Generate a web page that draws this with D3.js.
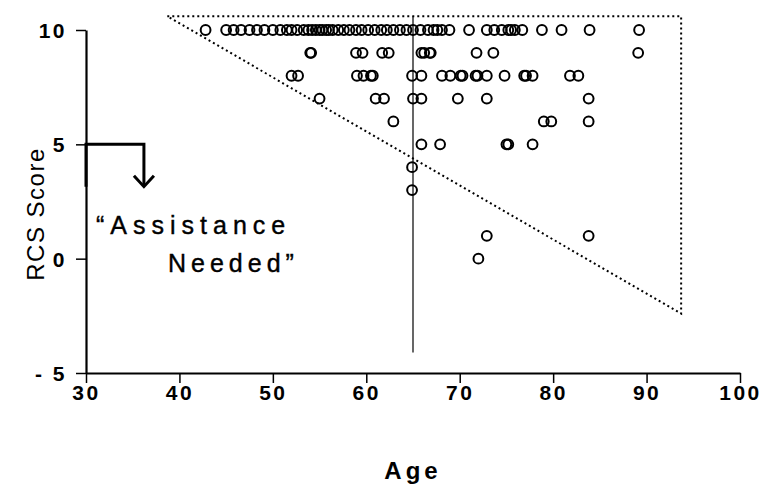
<!DOCTYPE html>
<html>
<head>
<meta charset="utf-8">
<script src="https://cdn.jsdelivr.net/npm/d3@7"></script>
<style>
  body { margin: 0; background: #fff; }
  svg { display: block; }
  .tick text { font-family: "Liberation Sans", Arial, sans-serif; font-weight: bold; font-size: 21px; letter-spacing: 2.5px; }
</style>
</head>
<body>
<div id="chart"></div>
<script>
// RCS score by age, one list of ages per score row
var scoreRows = [10, 9, 8, 7, 6, 5, 4, 3, 1, 0];
var agesByRow = [
  // score 10
  [42.8, 45, 45.8, 46.6, 47.5, 48.3, 49.1, 50, 50.8, 51.5, 52, 52.6, 53.3, 53.8, 54.2, 54.6, 55, 55.3, 55.7,
   56, 56.4, 57, 57.6, 58.2, 58.9, 59.5, 60.2, 60.9, 61.6, 62.2, 62.9, 63.6, 64.3,
   65, 65.8, 66.6, 67.2, 67.6, 68.1, 68.9, 71, 72.9, 73.7, 74.5, 75.2, 75.5, 75.9, 76.7, 78.8, 80.9, 83.9, 89.2],
  // score 9
  [54, 54.1, 58.9, 59.6, 61.7, 62.4, 65.9, 66.2, 66.8, 66.9, 71.8, 73.6, 89.1],
  // score 8
  [52, 52.7, 59, 59.7, 60.5, 60.7, 64.9, 65.9, 68.1, 69, 70.1, 70.3, 71.7, 71.9, 72.9, 74.8, 76.9, 77.1, 77.8, 81.8, 82.7],
  // score 7
  [55, 61, 61.9, 65, 65.9, 69.8, 72.9, 83.8],
  // score 6
  [62.9, 79, 79.8, 83.8],
  // score 5
  [65.9, 67.9, 75, 75.2, 77.8],
  // score 4
  [64.9],
  // score 3
  [64.9],
  // score 1
  [72.9, 83.8],
  // score 0
  [72]
];

var xTicks = [30, 40, 50, 60, 70, 80, 90, 100];
var yTicks = [-5, 0, 5, 10];

// dotted triangle corners (age, score)
var triangle = [[38.7, 10.6], [93.7, 10.6], [93.7, -2.4]];
// age 65 cut-off line
var cutAge = 65, cutTop = 10.6, cutBottom = -4.1;
// "assistance needed" bracket: from score 5 on the axis out to this age, then down
var bracketAge = 36.2, bracketBottom = 3.15;

var width = 763, height = 484;

var x = d3.scaleLinear().domain([30, 100]).range([86, 740]);
var y = d3.scaleLinear().domain([-5, 10]).range([373, 30]);

var svg = d3.select("#chart").append("svg")
  .attr("width", width)
  .attr("height", height);

svg.append("rect").attr("width", width).attr("height", height).attr("fill", "#fff");

// flatten the rows into points
var points = [];
agesByRow.forEach(function(ages, i) {
  ages.forEach(function(a) { points.push({ age: a, score: scoreRows[i] }); });
});

// dotted triangle
svg.append("path")
  .attr("d", d3.line()(triangle.map(function(p) { return [x(p[0]), y(p[1])]; })) + "Z")
  .attr("fill", "none")
  .attr("stroke", "#000")
  .attr("stroke-width", 2)
  .attr("stroke-dasharray", "2,3");

// vertical line at 65
svg.append("line")
  .attr("x1", x(cutAge)).attr("x2", x(cutAge))
  .attr("y1", y(cutTop)).attr("y2", y(cutBottom))
  .attr("stroke", "#000")
  .attr("stroke-width", 1.2);

// axes
var xAxis = d3.axisBottom(x).tickValues(xTicks).tickSize(10).tickSizeOuter(0).tickPadding(2);
var yAxis = d3.axisLeft(y).tickValues(yTicks).tickSize(10).tickSizeOuter(0).tickPadding(9)
  .tickFormat(function(d) { return d < 0 ? "- " + Math.abs(d) : d; });

var gx = svg.append("g").attr("transform", "translate(0," + y(-5) + ")").call(xAxis);
var gy = svg.append("g").attr("transform", "translate(" + x(30) + ",0)").call(yAxis);

[gx, gy].forEach(function(g) {
  g.select(".domain").attr("stroke-width", 2.2);
  g.selectAll(".tick line").attr("stroke-width", 1.5);
  g.selectAll(".tick text").attr("fill", "#000");
});
gx.selectAll(".tick text").attr("dy", "0.72em");
gy.selectAll(".tick text").attr("dy", "0.36em");

// bracket + arrow
svg.append("path")
  .attr("d", "M" + x(30) + "," + y(bracketBottom) + "V" + y(5) + "H" + x(bracketAge) + "V" + (y(bracketBottom) - 1))
  .attr("fill", "none")
  .attr("stroke", "#000")
  .attr("stroke-width", 3);
svg.append("path")
  .attr("d", "M" + (x(bracketAge) - 10) + "," + (y(bracketBottom) - 11) +
             "L" + x(bracketAge) + "," + y(bracketBottom) +
             "L" + (x(bracketAge) + 10) + "," + (y(bracketBottom) - 11))
  .attr("fill", "none")
  .attr("stroke", "#000")
  .attr("stroke-width", 3);

// points
svg.append("g").selectAll("circle")
  .data(points)
  .enter()
  .append("circle")
  .attr("cx", function(d) { return x(d.age); })
  .attr("cy", function(d) { return y(d.score); })
  .attr("r", 4.9)
  .attr("fill", "none")
  .attr("stroke", "#000")
  .attr("stroke-width", 2);

// annotation text
svg.append("text")
  .attr("x", 96).attr("y", 234)
  .attr("font-family", "Liberation Sans, Arial, sans-serif")
  .attr("font-size", 25)
  .attr("letter-spacing", 6)
  .attr("stroke", "#000")
  .attr("stroke-width", 0.4)
  .text("\u201CAssistance");
svg.append("text")
  .attr("x", 168).attr("y", 272)
  .attr("font-family", "Liberation Sans, Arial, sans-serif")
  .attr("font-size", 25)
  .attr("letter-spacing", 5)
  .attr("stroke", "#000")
  .attr("stroke-width", 0.4)
  .text("Needed\u201D");

// axis titles
svg.append("text")
  .attr("transform", "translate(44,214) rotate(-90)")
  .attr("text-anchor", "middle")
  .attr("font-family", "Liberation Sans, Arial, sans-serif")
  .attr("font-size", 24)
  .attr("letter-spacing", 1.5)
  .text("RCS  Score");
svg.append("text")
  .attr("x", x(65)).attr("y", 479)
  .attr("text-anchor", "middle")
  .attr("font-family", "Liberation Sans, Arial, sans-serif")
  .attr("font-weight", "bold")
  .attr("font-size", 24)
  .attr("letter-spacing", 4)
  .text("Age");
</script>
</body>
</html>
